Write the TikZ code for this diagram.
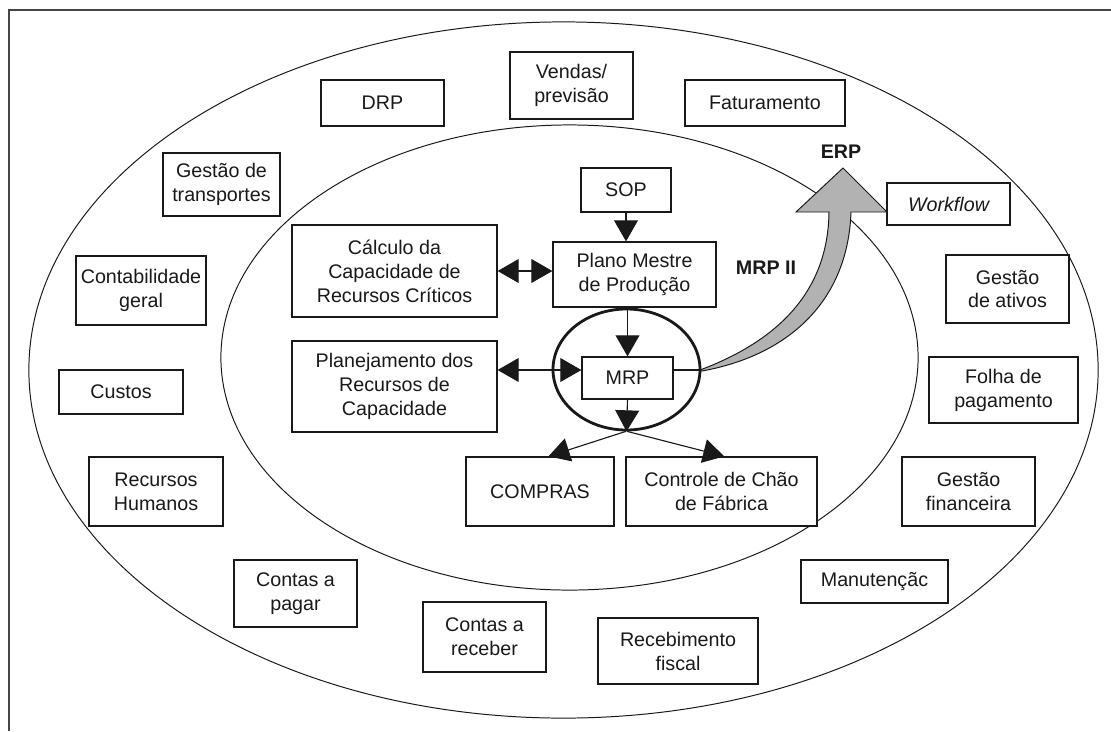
\documentclass[tikz,border=0pt]{standalone}
\usepackage{fontspec}
\setmainfont{Liberation Sans}
\usetikzlibrary{arrows.meta,positioning,calc,shapes.geometric}
\definecolor{erpGray}{RGB}{178,178,178}
\definecolor{frameGray}{RGB}{70,70,70}
\definecolor{inkBlack}{RGB}{25,25,25}
\tikzset{
  box/.style={draw=inkBlack, fill=white, line width=0.9pt, inner sep=0pt, align=center,
              font=\fontsize{14}{17}\selectfont, text=inkBlack},
  boxwh/.style 2 args={minimum width=#1*0.025cm, minimum height=#2*0.025cm},
  ring/.style={draw=inkBlack, line width=0.7pt},
  tip/.style={-{Triangle[length=15pt,width=17pt]}, line width=0.8pt, draw=inkBlack},
  dbltip/.style={{Triangle[length=15pt,width=17pt]}-{Triangle[length=15pt,width=17pt]},
                 line width=0.8pt, draw=inkBlack},
  biglabel/.style={font=\fontsize{14}{16}\selectfont\bfseries, text=inkBlack, inner sep=0pt}
}

\begin{document}
\begin{tikzpicture}[x=0.025cm, y=-0.025cm]
\useasboundingbox (0,0) rectangle (1111,731);
\draw[frameGray, line width=1pt] (9,731) -- (9,10) -- (1111,10);
\draw[ring] (563.5,370) ellipse [x radius=13.3625cm, y radius=8.7cm];
\draw[ring] (569.5,357.5) ellipse [x radius=8.7125cm, y radius=5.8125cm];

\node[box, boxwh={123}{46}] (drp) at (382.5,103) {DRP};
\node[box, boxwh={123}{67}] (vendas) at (571.5,85.5) {Vendas/\\previsão};
\node[box, boxwh={160}{46}] (fatur) at (765,103) {Faturamento};
\node[box, boxwh={117}{63}] (transp) at (221.5,184.5) {Gestão de\\transportes};
\node[box, boxwh={130}{69}] (contab) at (141,290.5) {Contabilidade\\geral};
\node[box, boxwh={124}{44}] (custos) at (121,392) {Custos};
\node[box, boxwh={134}{69}] (rh) at (156,491.5) {Recursos\\Humanos};
\node[box, boxwh={123}{67}] (pagar) at (295.5,593.5) {Contas a\\pagar};
\node[box, boxwh={123}{70}] (receber) at (484.5,637) {Contas a\\receber};
\node[box, boxwh={160}{66}] (receb) at (678,651) {Recebimento\\fiscal};
\node[box, boxwh={147}{43}] (manut) at (874.5,581.5) {Manutençãc};
\node[box, boxwh={133}{69}] (financ) at (968.5,491.5) {Gestão\\financeira};
\node[box, boxwh={149}{66}] (folha) at (1003.5,390) {Folha de\\pagamento};
\node[box, boxwh={123}{68}] (ativos) at (1007.5,289) {Gestão\\de ativos};
\node[box, boxwh={123}{42}] (workflow) at (948.5,204) {\itshape Workflow};

\node[box, boxwh={205}{92}] (calculo) at (394.5,271) {Cálculo da\\Capacidade de\\Recursos Críticos};
\node[box, boxwh={205}{91}] (planej) at (394.5,386.5) {Planejamento dos\\Recursos de\\Capacidade};
\node[box, boxwh={90}{44}] (sop) at (626,190) {SOP};
\node[box, boxwh={163}{65}] (plano) at (634.5,274.5) {Plano Mestre\\de Produção};
\node[box, boxwh={91}{42}] (mrp) at (627.5,378) {MRP};
\node[box, boxwh={148}{69}] (compras) at (540,491.5) {COMPRAS};
\node[box, boxwh={191}{69}] (controle) at (721.5,491.5) {Controle de Chão\\de Fábrica};

\node[ellipse, draw=inkBlack, line width=2pt, inner sep=0pt, boxwh={147}{121}] (mrpring) at (626.5,369.5) {};
\coordinate (erpfoot) at (700,370);

\draw[tip] (sop.south) -- (sop.south |- plano.north);
\draw[tip] (mrp.north |- plano.south) -- (mrp.north);
\draw[tip] (mrp.south) -- (mrpring.south);
\draw[tip] ([xshift=-0.5pt]mrpring.south) -- ([xshift=6pt]compras.north);
\draw[tip] ([xshift=0.5pt]mrpring.south) -- ([xshift=2pt]controle.north);
\draw[dbltip] (calculo.east) -- (calculo.east -| plano.west);
\draw[dbltip] (planej.east |- erpfoot) -- (mrp.west |- erpfoot);
\draw[line width=0.8pt, inkBlack] (mrp.east |- erpfoot) -- (erpfoot);

\filldraw[fill=erpGray, draw=inkBlack, line width=0.7pt]
  (erpfoot) .. controls (780,340) and (828,290) .. (829,212)
  -- (796,212) -- (843,168) -- (887,212) -- (851,212)
  .. controls (848,300) and (790,355) .. (702,371) -- cycle;

\node[biglabel] (erp) at (841,152) {ERP};
\node[biglabel] (mrpii) at (766,268) {MRP II};
\end{tikzpicture}
\end{document}
